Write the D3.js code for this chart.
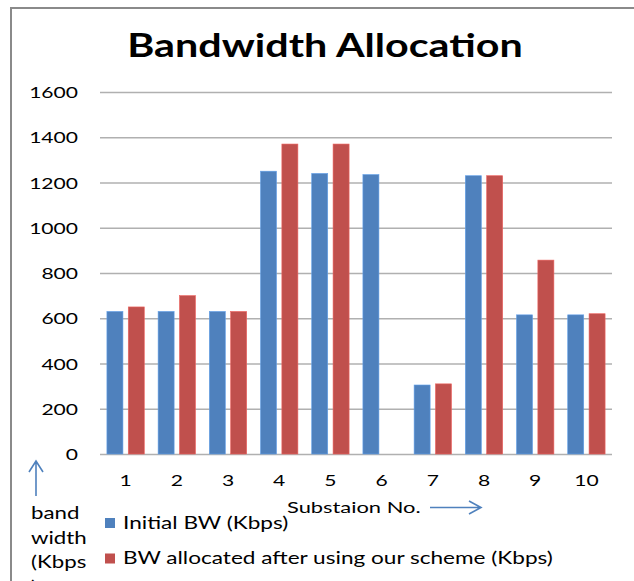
<!DOCTYPE html>
<html><head><meta charset="utf-8">
<script src="https://cdn.jsdelivr.net/npm/d3@7/dist/d3.min.js"></script>
<style>
body{margin:0;background:#fff}
svg{display:block}
text{font-family:Lato,'Open Sans',sans-serif;fill:#000}
</style>
</head><body>
<svg id="chart" width="634" height="581"></svg>
<script>
// ---- data ----
const categories = ["1","2","3","4","5","6","7","8","9","10"];
const initialBW = [630,630,630,1250,1240,1235,305,1230,615,615];
const allocatedBW = [650,700,630,1370,1370,0,310,1230,857,620];
const yTicks = [0,200,400,600,800,1000,1200,1400,1600];
const seriesNames = ["Initial BW (Kbps)","BW allocated after using our scheme (Kbps)"];
const seriesColors = ["#4f81bd","#c0504d"];
const titleText = "Bandwidth Allocation";
const xAxisTitle = "Substaion No.";
const yAxisTitleLines = ["band","width","(Kbps",")"];

// ---- layout ----
const SX = 1.35;
const svg = d3.select("#chart");
const plot = {left:100,right:612,top:92,bottom:454};

const x = d3.scaleBand().domain(categories).range([plot.left,plot.right]).paddingInner(0.27).paddingOuter(0.135);
const xs = d3.scaleBand().domain([0,1]).range([0,x.bandwidth()]).paddingInner(0.25);
const y = d3.scaleLinear().domain([0,1600]).range([plot.bottom,plot.top]);

function sText(parent, str, px, py, size, anchor, weight, sx){
  return parent.append("text").text(str)
    .attr("transform",`translate(${px},${py}) scale(${sx||SX},1)`)
    .attr("text-anchor",anchor||"start")
    .style("font-size",size+"px")
    .style("font-weight",weight||"normal");
}

// frame
svg.append("line").attr("x1",10).attr("x2",634).attr("y1",8).attr("y2",8).attr("stroke","#8a8a8a").attr("stroke-width",2);
svg.append("line").attr("x1",11).attr("x2",11).attr("y1",7).attr("y2",581).attr("stroke","#8a8a8a").attr("stroke-width",2);

// title
sText(svg,titleText,325,57,31.5,"middle","bold",1.31);

// grid + y axis
const yAxis = d3.axisLeft(y).tickValues(yTicks).tickSize(-(plot.right-plot.left)).tickFormat(d3.format("d"));
const gy = svg.append("g").attr("transform",`translate(${plot.left},0)`).call(yAxis);
gy.select(".domain").remove();
gy.selectAll(".tick line").attr("stroke","#b0b0b0").attr("stroke-width",1.6);
gy.selectAll(".tick text").attr("x",0).attr("dy",null)
  .attr("transform",`translate(-22,5.5) scale(${SX},1)`)
  .attr("text-anchor","end").style("font-size","15.6px").style("font-family","Lato").attr("fill","#000");

// bars
const series = [initialBW, allocatedBW];
series.forEach((vals,si)=>{
  svg.append("g").selectAll("rect").data(vals.map((v,i)=>({c:categories[i],v})).filter(d=>d.v>0))
    .join("rect")
    .attr("x",d=>x(d.c)+xs(si))
    .attr("width",xs.bandwidth())
    .attr("y",d=>y(d.v))
    .attr("height",d=>y(0)-y(d.v))
    .attr("fill",seriesColors[si])
    .attr("stroke",d3.color(seriesColors[si]).brighter(0.6))
    .attr("stroke-width",0.6);
});

// x axis labels
const xAxis = d3.axisBottom(x).tickSize(0).tickPadding(0);
const gx = svg.append("g").attr("transform",`translate(0,${plot.bottom})`).call(xAxis);
gx.select(".domain").remove();
gx.selectAll(".tick text").attr("y",0).attr("dy",null)
  .attr("transform",`translate(0,32) scale(${SX},1)`)
  .style("font-size","15.6px").style("font-family","Lato").attr("fill","#000");

// x axis title + arrow
sText(svg,xAxisTitle,287,513,16.2,"start");
const arrowColor = "#4f81bd";
svg.append("path").attr("d","M430,507.5 L481,507.5 M469,501 L481,507.5 L469,514")
  .attr("fill","none").attr("stroke",arrowColor).attr("stroke-width",1.6);

// y axis title + up arrow
svg.append("path").attr("d","M36,496 L36,461 M29,472 L36,461 L43,472")
  .attr("fill","none").attr("stroke",arrowColor).attr("stroke-width",1.6);
yAxisTitleLines.forEach((t,i)=>{
  sText(svg,t,31,519+i*24.5,16.5,"start");
});

// legend
seriesNames.forEach((n,i)=>{
  const ly = 518 + i*35.5;
  svg.append("rect").attr("x",105).attr("y",ly).attr("width",10).attr("height",10).attr("fill",seriesColors[i]);
  sText(svg,n,123,ly+10.5,16.5,"start",null,1.37);
});
</script>
</body></html>
